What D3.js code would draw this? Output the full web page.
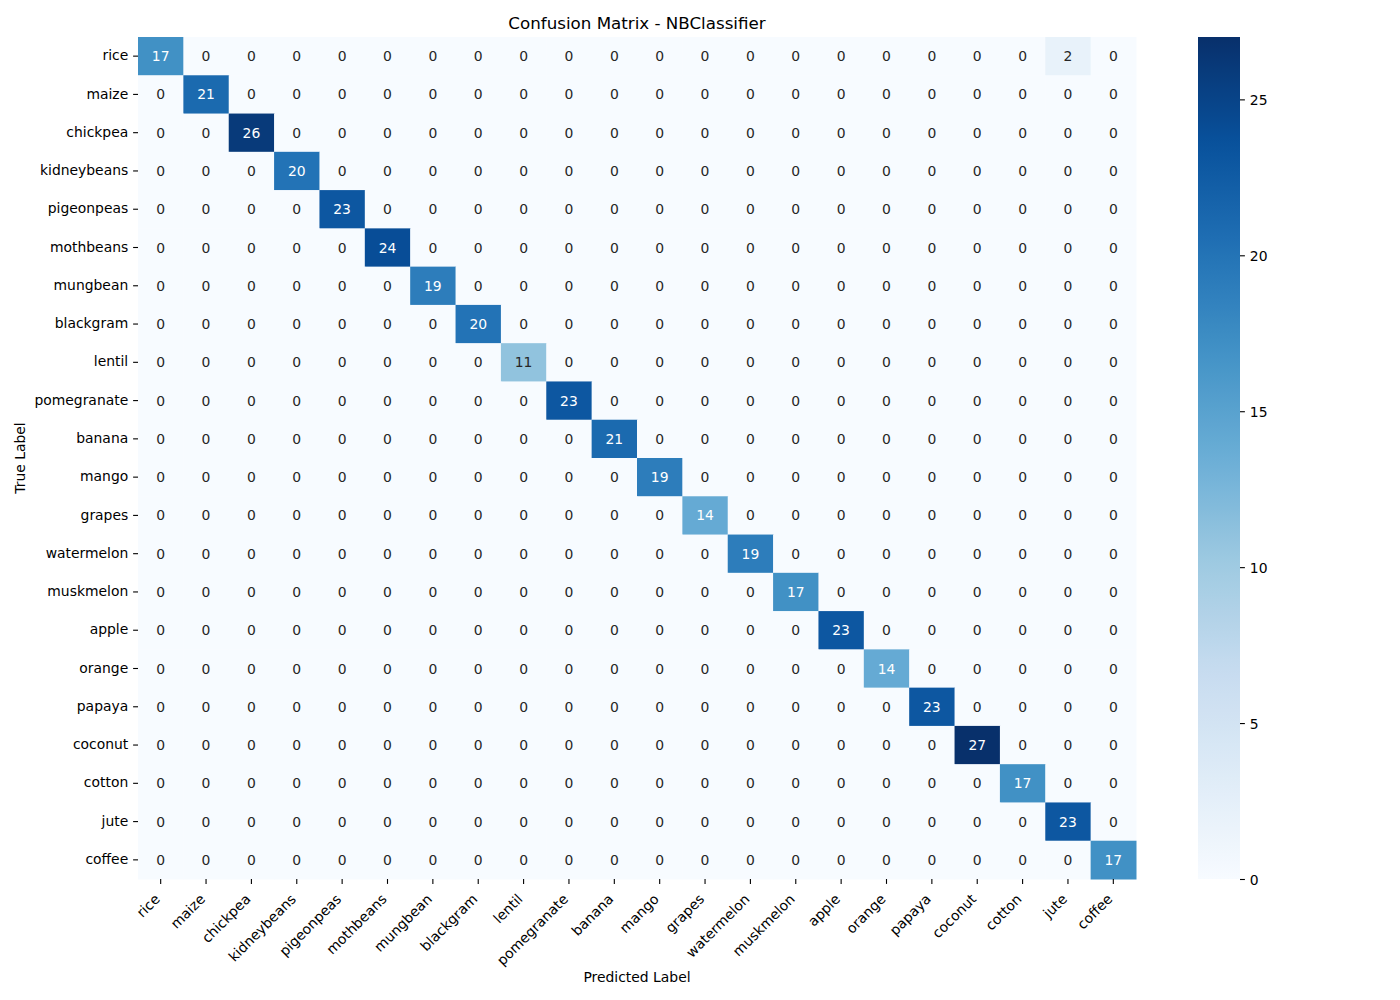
<!DOCTYPE html>
<html>
<head>
<meta charset="utf-8">
<script src="https://cdn.jsdelivr.net/npm/d3@7"></script>
<style>
  body { margin: 0; background: #fff; }
  svg text { font-family: "DejaVu Sans", sans-serif; }
  .axis path.domain { display: none; }
  .axis line { stroke: #000; stroke-width: 1.1; }
  .axis text { fill: #000; font-size: 13.9px; }
</style>
</head>
<body>
<div id="Chart"></div>
<script>
// class names, same order on both axes
var labels = ["rice", "maize", "chickpea", "kidneybeans", "pigeonpeas", "mothbeans",
              "mungbean", "blackgram", "lentil", "pomegranate", "banana", "mango",
              "grapes", "watermelon", "muskmelon", "apple", "orange", "papaya",
              "coconut", "cotton", "jute", "coffee"];
// correct predictions (diagonal)
var diagonal = [17, 21, 26, 20, 23, 24, 19, 20, 11, 23, 21, 19, 14, 19, 17, 23, 14, 23, 27, 17, 23, 17];
// wrong predictions: [true label, predicted label, count]
var offDiagonal = [["rice", "jute", 2]];
var colorbarTicks = [0, 5, 10, 15, 20, 25];
// matplotlib "Blues" anchor colours
var blues = ["#f7fbff", "#deebf7", "#c6dbef", "#9ecae1", "#6baed6", "#4292c6", "#2171b5", "#08519c", "#08306b"];

// build full matrix
var cells = [];
labels.forEach(function(t, i) {
    labels.forEach(function(p, j) {
        cells.push({t: t, p: p, v: i == j ? diagonal[i] : 0});
    });
});
offDiagonal.forEach(function(o) {
    cells.forEach(function(c) { if (c.t == o[0] && c.p == o[1]) c.v = o[2]; });
});

var width = 1400, height = 1000;
var margin = {left: 138, right: 1136, top: 37, bottom: 879};
var vmax = d3.max(cells, d => d.v);

var svg = d3.select("#Chart")
            .append("svg")
            .attr("width", width)
            .attr("height", height);

var x = d3.scaleBand().domain(labels).range([margin.left, margin.right]);
var y = d3.scaleBand().domain(labels).range([margin.top, margin.bottom]);
var color = d3.scaleLinear()
              .domain(blues.map((c, i) => vmax * i / (blues.length - 1)))
              .range(blues)
              .interpolate(d3.interpolateRgb);

function luminance(c) {
    var rgb = d3.rgb(c);
    var ch = [rgb.r, rgb.g, rgb.b].map(function(v) {
        v = v / 255;
        return v <= 0.03928 ? v / 12.92 : Math.pow((v + 0.055) / 1.055, 2.4);
    });
    return 0.2126 * ch[0] + 0.7152 * ch[1] + 0.0722 * ch[2];
}

// cells
svg.append("g").selectAll("rect")
   .data(cells)
   .enter()
   .append("rect")
   .attr("x", d => x(d.p))
   .attr("y", d => y(d.t))
   .attr("width", x.bandwidth() + 0.5)
   .attr("height", y.bandwidth() + 0.5)
   .attr("fill", d => color(d.v));

// annotations
svg.append("g").selectAll("text")
   .data(cells)
   .enter()
   .append("text")
   .attr("x", d => x(d.p) + x.bandwidth() / 2)
   .attr("y", d => y(d.t) + y.bandwidth() / 2)
   .attr("dy", "0.36em")
   .attr("text-anchor", "middle")
   .style("font-size", "13.9px")
   .attr("fill", d => luminance(color(d.v)) > 0.408 ? "#262626" : "#ffffff")
   .text(d => d.v);

// y axis
svg.append("g")
   .attr("class", "axis")
   .attr("transform", "translate(" + margin.left + ",0)")
   .call(d3.axisLeft(y).tickSize(4.9).tickPadding(4.9))
   .selectAll("text")
   .attr("dy", "0.3em");

// x axis
var xaxis = svg.append("g")
   .attr("class", "axis")
   .attr("transform", "translate(0," + margin.bottom + ")")
   .call(d3.axisBottom(x).tickSize(4.9));
xaxis.selectAll("text")
     .attr("y", 0)
     .attr("dy", 0)
     .attr("text-anchor", "end")
     .attr("transform", "translate(0,21) rotate(-45)");

// title and axis labels
svg.append("text")
   .attr("x", (margin.left + margin.right) / 2)
   .attr("y", 29)
   .attr("text-anchor", "middle")
   .style("font-size", "16.7px")
   .attr("fill", "#000")
   .text("Confusion Matrix - NBClassifier");
svg.append("text")
   .attr("x", (margin.left + margin.right) / 2)
   .attr("y", 982)
   .attr("text-anchor", "middle")
   .style("font-size", "13.9px")
   .attr("fill", "#000")
   .text("Predicted Label");
svg.append("text")
   .attr("transform", "translate(25," + (margin.top + margin.bottom) / 2 + ") rotate(-90)")
   .attr("text-anchor", "middle")
   .style("font-size", "13.9px")
   .attr("fill", "#000")
   .text("True Label");

// colorbar
var cbLeft = 1198, cbRight = 1240;
var cb = d3.scaleLinear().domain([0, vmax]).range([margin.bottom, margin.top]);
var grad = svg.append("defs").append("linearGradient")
              .attr("id", "cbgrad")
              .attr("x1", 0).attr("y1", 1).attr("x2", 0).attr("y2", 0);
grad.selectAll("stop")
    .data(d3.range(0, 1.0001, 0.02))
    .enter()
    .append("stop")
    .attr("offset", d => d)
    .attr("stop-color", d => color(d * vmax));
svg.append("rect")
   .attr("x", cbLeft)
   .attr("y", margin.top)
   .attr("width", cbRight - cbLeft)
   .attr("height", margin.bottom - margin.top)
   .attr("fill", "url(#cbgrad)");
svg.append("g")
   .attr("class", "axis")
   .attr("transform", "translate(" + cbRight + ",0)")
   .call(d3.axisRight(cb).tickValues(colorbarTicks).tickSize(4.9).tickPadding(4.9))
   .selectAll("text")
   .attr("dy", "0.36em");
</script>
</body>
</html>
